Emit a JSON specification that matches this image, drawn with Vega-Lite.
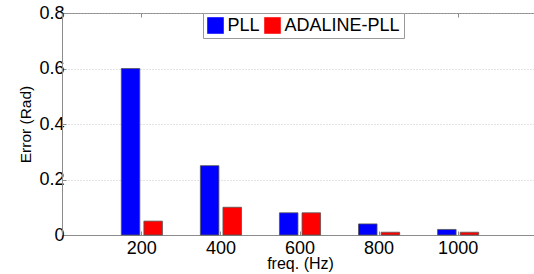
{
  "$schema": "https://vega.github.io/schema/vega-lite/v6.json",
  "width": 476,
  "height": 222,
  "autosize": {"type": "none"},
  "padding": {"left": 62, "top": 13, "right": 0, "bottom": 39},
  "background": "white",
  "config": {
    "font": "Liberation Sans",
    "view": {"stroke": "#8c8c8c", "strokeWidth": 1},
    "axis": {"domainColor": "#8c8c8c", "tickColor": "#8c8c8c", "labelColor": "black", "titleColor": "black", "titleFontWeight": "normal", "labelFont": "Liberation Sans", "titleFont": "Liberation Sans"}
  },
  "data": {
    "values": [
      {"freq": "200", "method": "PLL", "error": 0.6},
      {"freq": "400", "method": "PLL", "error": 0.25},
      {"freq": "600", "method": "PLL", "error": 0.08},
      {"freq": "800", "method": "PLL", "error": 0.04},
      {"freq": "1000", "method": "PLL", "error": 0.02},
      {"freq": "200", "method": "ADALINE-PLL", "error": 0.05},
      {"freq": "400", "method": "ADALINE-PLL", "error": 0.1},
      {"freq": "600", "method": "ADALINE-PLL", "error": 0.08},
      {"freq": "800", "method": "ADALINE-PLL", "error": 0.01},
      {"freq": "1000", "method": "ADALINE-PLL", "error": 0.01}
    ]
  },
  "layer": [
    {
      "mark": {"type": "bar", "stroke": "#555555", "strokeWidth": 0.8},
      "encoding": {
        "x": {
          "field": "freq", "type": "ordinal",
          "sort": ["200", "400", "600", "800", "1000"],
          "scale": {"paddingInner": 0.48, "paddingOuter": 0.75},
          "axis": {"title": "freq. (Hz)", "labelAngle": 0, "labelFontSize": 18, "titleFontSize": 16, "tickSize": -4, "labelPadding": 8, "titlePadding": -2, "grid": false}
        },
        "xOffset": {
          "field": "method", "type": "nominal",
          "sort": ["PLL", "ADALINE-PLL"],
          "scale": {"paddingInner": 0.18, "paddingOuter": 0}
        },
        "y": {
          "field": "error", "type": "quantitative",
          "scale": {"domain": [0, 0.8], "nice": false},
          "axis": {"title": "Error (Rad)", "values": [0, 0.2, 0.4, 0.6, 0.8], "format": "~g", "labelFontSize": 18, "titleFontSize": 15.5, "tickSize": -4, "labelPadding": 2, "titlePadding": 5, "grid": true, "gridColor": "#b8b8b8", "gridDash": [1, 2], "gridWidth": 0.8}
        },
        "color": {
          "field": "method", "type": "nominal",
          "scale": {"domain": ["PLL", "ADALINE-PLL"], "range": ["#0000ff", "#ff0000"]},
          "legend": {
            "title": null, "orient": "none", "legendX": 141, "legendY": 0,
            "direction": "horizontal", "symbolType": "square", "symbolSize": 275,
            "symbolStrokeWidth": 0, "labelFontSize": 18, "labelFont": "Liberation Sans", "labelColor": "black", "labelOffset": 3,
            "columnPadding": 3, "padding": 3.5, "strokeColor": "#999999", "fillColor": "white", "cornerRadius": 0
          }
        }
      }
    },
    {
      "mark": {"type": "bar", "opacity": 0},
      "encoding": {
        "x": {
          "field": "freq", "type": "ordinal",
          "sort": ["200", "400", "600", "800", "1000"],
          "axis": {"orient": "top", "labels": false, "title": null, "tickSize": -4, "domain": false, "grid": false}
        },
        "y": {"field": "error", "type": "quantitative"}
      }
    }
  ],
  "resolve": {"axis": {"x": "independent"}}
}
